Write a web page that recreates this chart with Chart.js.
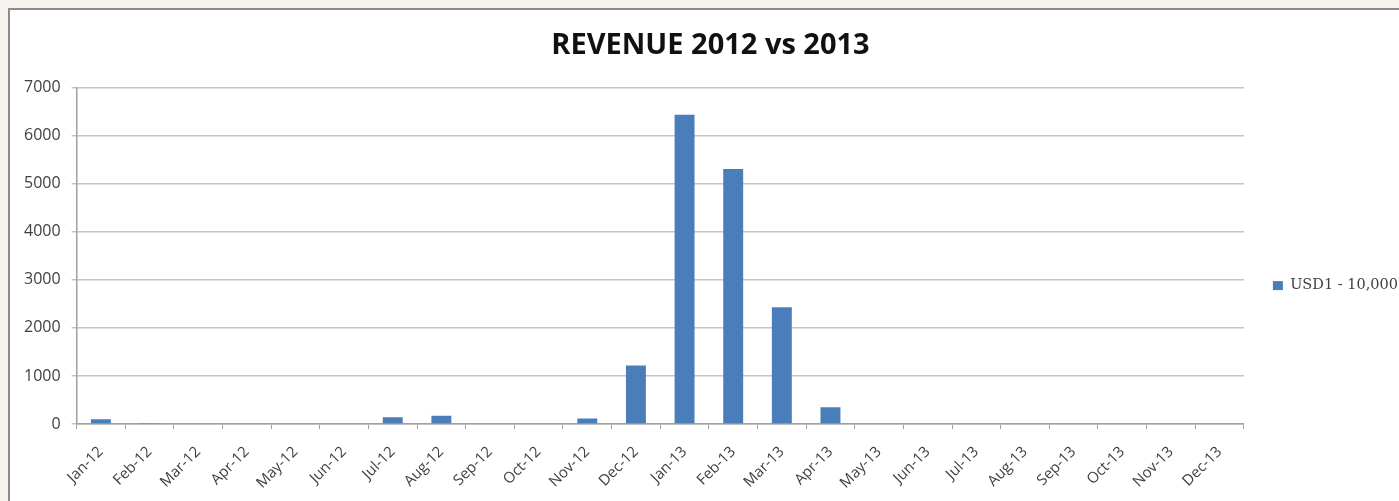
<!DOCTYPE html>
<html>
<head>
<meta charset="utf-8">
<script src="https://cdn.jsdelivr.net/npm/chart.js@4.4.1/dist/chart.umd.min.js"></script>
<style>
  html, body { margin: 0; padding: 0; background: #f6f3ee; overflow: hidden; }
  #frame { position: absolute; left: 8px; top: 8px; width: 1410px; height: 530px;
           background: #ffffff; border-left: 2px solid #8c8c8c; border-top: 2px solid #8c8c8c; }
  #wrap { position: absolute; left: 0; top: 0; width: 1398px; height: 513px; }
</style>
</head>
<body>
<div id="frame"><div id="wrap"><canvas id="c"></canvas></div></div>
<script>
const categories = ["Jan-12","Feb-12","Mar-12","Apr-12","May-12","Jun-12","Jul-12","Aug-12","Sep-12","Oct-12","Nov-12","Dec-12",
                    "Jan-13","Feb-13","Mar-13","Apr-13","May-13","Jun-13","Jul-13","Aug-13","Sep-13","Oct-13","Nov-13","Dec-13"];
const seriesName = "USD1 - 10,000";
const revenue = [100, 20, 0, 0, 0, 0, 140, 170, 0, 0, 115, 1220,
                 6440, 5310, 2430, 350, 0, 0, 0, 0, 0, 0, 0, 0];
const yTicks = [0, 1000, 2000, 3000, 4000, 5000, 6000, 7000];
const chartTitle = "REVENUE 2012 vs 2013";

new Chart(document.getElementById('c'), {
  type: 'bar',
  data: {
    labels: categories,
    datasets: [{
      label: seriesName,
      data: revenue,
      backgroundColor: '#4a7ebb',
      borderWidth: 0,
      barPercentage: 0.41,
      categoryPercentage: 1.0
    }]
  },
  options: {
    responsive: true,
    maintainAspectRatio: false,
    animation: false,
    layout: { padding: { left: 3, right: 0, top: 0, bottom: 17 } },
    plugins: {
      title: {
        display: true,
        text: chartTitle,
        color: '#111111',
        font: { family: 'Open Sans', size: 29, weight: 'bold' },
        padding: { top: 18, bottom: 25 }
      },
      legend: {
        display: true,
        position: 'right',
        align: 'center',
        title: { display: true, text: ' ', font: { size: 1 }, padding: { top: 0, bottom: 54 } },
        labels: {
          color: '#404040',
          font: { family: 'DejaVu Serif', size: 14.5 },
          boxWidth: 10,
          boxHeight: 9,
          padding: 29
        }
      },
      tooltip: { enabled: false }
    },
    scales: {
      x: {
        offset: true,
        grid: { display: true, drawOnChartArea: false, drawTicks: true, tickLength: 5, color: '#a0a0a0', offset: true },
        border: { display: true, color: '#a0a0a0', width: 1.5 },
        ticks: {
          color: '#404040',
          font: { family: 'Open Sans', size: 15 },
          maxRotation: 45, minRotation: 45,
          autoSkip: false,
          padding: 14
        }
      },
      y: {
        min: 0, max: 7000,
        afterBuildTicks: (axis) => { axis.ticks = yTicks.map(v => ({ value: v })); },
        grid: { color: '#c4c4c4', lineWidth: 1.5, drawTicks: true, tickLength: 5 },
        border: { display: true, color: '#a0a0a0', width: 1.5 },
        ticks: {
          color: '#404040',
          font: { family: 'Open Sans', size: 16 },
          padding: 11,
          callback: (v) => String(v)
        }
      }
    }
  }
});
</script>
</body>
</html>
